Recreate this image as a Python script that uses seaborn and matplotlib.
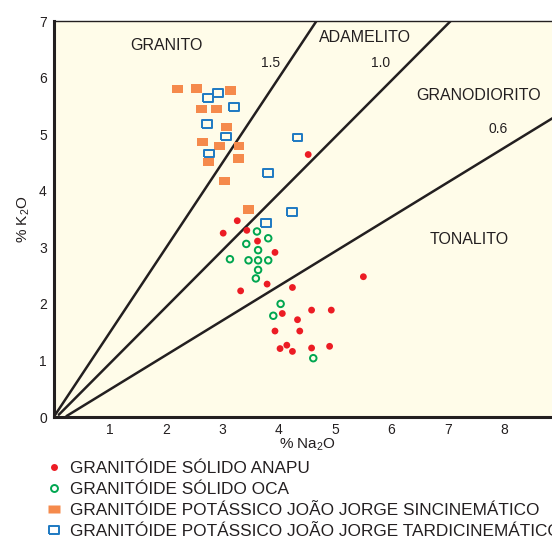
import numpy as np
import pandas as pd
import matplotlib
matplotlib.use("Agg")
import matplotlib.pyplot as plt
from matplotlib.lines import Line2D
import seaborn as sns

# Na2O / K2O (wt %) for each granitoid suite
anapu_na2o = [3.26, 3.01, 3.43, 3.62, 3.93, 3.79, 3.32, 4.24, 4.52, 5.50, 4.06,
              4.58, 4.93, 4.33, 3.93, 4.37, 4.02, 4.14, 4.24, 4.58, 4.90]
anapu_k2o = [3.47, 3.25, 3.30, 3.11, 2.91, 2.35, 2.23, 2.29, 4.64, 2.48, 1.83,
             1.89, 1.89, 1.72, 1.52, 1.52, 1.21, 1.27, 1.16, 1.22, 1.25]

oca_na2o = [3.61, 3.81, 3.42, 3.63, 3.13, 3.46, 3.63, 3.81, 3.63, 3.59, 4.03, 3.90, 4.61]
oca_k2o = [3.28, 3.16, 3.06, 2.95, 2.79, 2.77, 2.77, 2.77, 2.60, 2.45, 2.00, 1.79, 1.04]

sin_na2o = [2.20, 2.54, 3.14, 2.63, 2.89, 3.07, 2.64, 2.95, 3.29, 3.28, 2.75, 3.04, 3.46]
sin_k2o = [5.80, 5.81, 5.77, 5.44, 5.44, 5.13, 4.86, 4.79, 4.79, 4.57, 4.51, 4.17, 3.67]

tardi_na2o = [2.74, 2.92, 3.20, 2.72, 3.06, 2.76, 3.81, 4.33, 3.77, 4.23]
tardi_k2o = [5.64, 5.73, 5.48, 5.18, 4.96, 4.66, 4.31, 4.94, 3.43, 3.62]

# K2O/Na2O reference lines: ratio and Na2O intercept
ratio_values = [1.5, 1.0, 0.61]
ratio_origin = [0.0, 0.05, 0.2]

field_names = ["GRANITO", "ADAMELITO", "GRANODIORITO", "TONALITO"]
field_x = [2.0, 5.53, 7.54, 7.38]
field_y = [6.56, 6.70, 5.69, 3.13]

ratio_labels = ["1.5", "1.0", "0.6"]
ratio_lab_x = [3.85, 5.80, 7.89]
ratio_lab_y = [6.25, 6.25, 5.09]

legend_labels = [
    "GRANITÓIDE SÓLIDO ANAPU",
    "GRANITÓIDE SÓLIDO OCA",
    "GRANITÓIDE POTÁSSICO JOÃO JORGE SINCINEMÁTICO",
    "GRANITÓIDE POTÁSSICO JOÃO JORGE TARDICINEMÁTICO",
]

sns.set_theme(style="white")
plt.rcParams["font.family"] = ["Liberation Sans", "DejaVu Sans"]
plt.rcParams["mathtext.fontset"] = "custom"
plt.rcParams["mathtext.rm"] = "Liberation Sans"
plt.rcParams["mathtext.default"] = "rm"

RED = "#ec1c24"
GREEN = "#00a650"
ORANGE = "#f58a4c"
BLUE = "#1d79c2"
INK = "#231f20"
BG = "#fffce9"

rect = [(-1, -0.78), (1, -0.78), (1, 0.78), (-1, 0.78), (-1, -0.78)]

frames = {
    "anapu": pd.DataFrame({"Na2O": anapu_na2o, "K2O": anapu_k2o}),
    "oca": pd.DataFrame({"Na2O": oca_na2o, "K2O": oca_k2o}),
    "sin": pd.DataFrame({"Na2O": sin_na2o, "K2O": sin_k2o}),
    "tardi": pd.DataFrame({"Na2O": tardi_na2o, "K2O": tardi_k2o}),
}

fig = plt.figure(figsize=(5.52, 5.39), dpi=100)
fig.patch.set_facecolor("white")
ax = fig.add_axes([0.0973, 0.2263, 0.918, 0.7347])
ax.set_facecolor(BG)
ax.set_xlim(0, 9)
ax.set_ylim(0, 7)

xs = np.linspace(0, 9, 200)
for r, x0 in zip(ratio_values, ratio_origin):
    xx = xs[xs >= x0]
    ax.plot(xx, r * (xx - x0), color=INK, lw=1.8, zorder=2, clip_on=True)

sns.scatterplot(data=frames["sin"], x="Na2O", y="K2O", marker=rect, s=60,
                color=ORANGE, edgecolor="none", ax=ax, zorder=3)
sns.scatterplot(data=frames["tardi"], x="Na2O", y="K2O", marker=rect, s=48,
                facecolor="none", edgecolor=BLUE, linewidth=1.4, ax=ax, zorder=3)
sns.scatterplot(data=frames["anapu"], x="Na2O", y="K2O", marker="o", s=24,
                color=RED, edgecolor="none", ax=ax, zorder=3)
sns.scatterplot(data=frames["oca"], x="Na2O", y="K2O", marker="o", s=22,
                facecolor="none", edgecolor=GREEN, linewidth=1.4, ax=ax, zorder=3)

for t, x, y in zip(field_names, field_x, field_y):
    ax.text(x, y, t, ha="center", va="center", fontsize=11.5, color=INK)
for t, x, y in zip(ratio_labels, ratio_lab_x, ratio_lab_y):
    ax.text(x, y, t, ha="center", va="center", fontsize=10, color=INK)

ax.set_xticks(range(1, 9))
ax.set_yticks(range(0, 8))
ax.tick_params(axis="both", direction="in", length=6, width=1.3, color=INK,
               labelsize=10, labelcolor=INK, pad=5)
ax.tick_params(axis="x", pad=4)
for side in ["left", "bottom"]:
    ax.spines[side].set_linewidth(2.2)
    ax.spines[side].set_color(INK)
for side in ["top", "right"]:
    ax.spines[side].set_linewidth(1.0)
    ax.spines[side].set_color(INK)

ax.set_xlabel("% Na$_2$O", fontsize=11, color=INK, labelpad=0)
ax.set_ylabel("% K$_2$O", fontsize=11, color=INK, labelpad=5)

handles = [
    Line2D([], [], ls="none", marker="o", ms=5, mfc=RED, mec="none"),
    Line2D([], [], ls="none", marker="o", ms=5, mfc="none", mec=GREEN, mew=1.4),
    Line2D([], [], ls="none", marker=rect, ms=8, mfc=ORANGE, mec="none"),
    Line2D([], [], ls="none", marker=rect, ms=7, mfc="none", mec=BLUE, mew=1.4),
]
fig.legend(handles, legend_labels, loc="upper left", bbox_to_anchor=(0.082, 0.145),
           frameon=False, fontsize=12.4, handlelength=1.0, handletextpad=0.43,
           labelspacing=0.35, borderaxespad=0, borderpad=0, labelcolor=INK)

fig.savefig("out.png", dpi=100, facecolor="white")
